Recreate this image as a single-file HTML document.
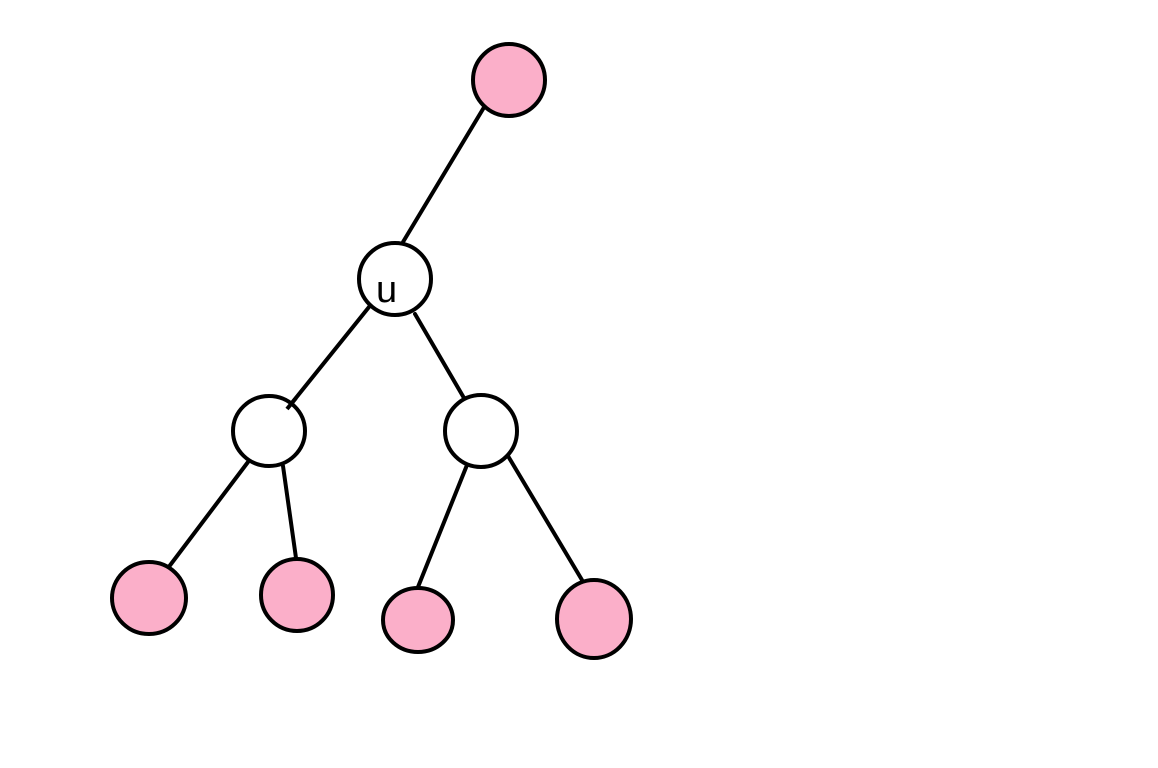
<!DOCTYPE html>
<html><head><style>html,body{margin:0;padding:0;background:#fff;}svg{display:block}</style></head>
<body>
<svg width="1158" height="768" viewBox="0 0 1158 768" xmlns="http://www.w3.org/2000/svg">
<g stroke="#000" stroke-width="4" fill="none" stroke-linecap="round">
<line x1="486" y1="104" x2="403" y2="242"/>
<line x1="369" y1="307" x2="287" y2="409"/>
<line x1="415" y1="314" x2="464" y2="398"/>
<line x1="248" y1="462" x2="168" y2="568"/>
<line x1="283" y1="466" x2="296" y2="558"/>
<line x1="467" y1="465" x2="418" y2="587"/>
<line x1="508" y1="456" x2="582" y2="580"/>
</g>
<g stroke="#000" stroke-width="4">
<ellipse cx="509" cy="80" rx="36" ry="36" fill="#fbafc9"/>
<ellipse cx="395" cy="279" rx="36" ry="36" fill="#fff"/>
<ellipse cx="269" cy="431" rx="36" ry="35" fill="#fff"/>
<ellipse cx="481" cy="431" rx="36" ry="36" fill="#fff"/>
<ellipse cx="149" cy="598" rx="37" ry="36" fill="#fbafc9"/>
<ellipse cx="297" cy="595" rx="36" ry="36" fill="#fbafc9"/>
<ellipse cx="418" cy="620" rx="35" ry="32" fill="#fbafc9"/>
<ellipse cx="594" cy="619" rx="37" ry="39" fill="#fbafc9"/>
</g>
<line x1="287" y1="409" x2="296" y2="398" stroke="#000" stroke-width="4"/>
<text x="376" y="302" font-family="Liberation Sans, sans-serif" font-size="38" fill="#000">u</text>
</svg>
</body></html>
